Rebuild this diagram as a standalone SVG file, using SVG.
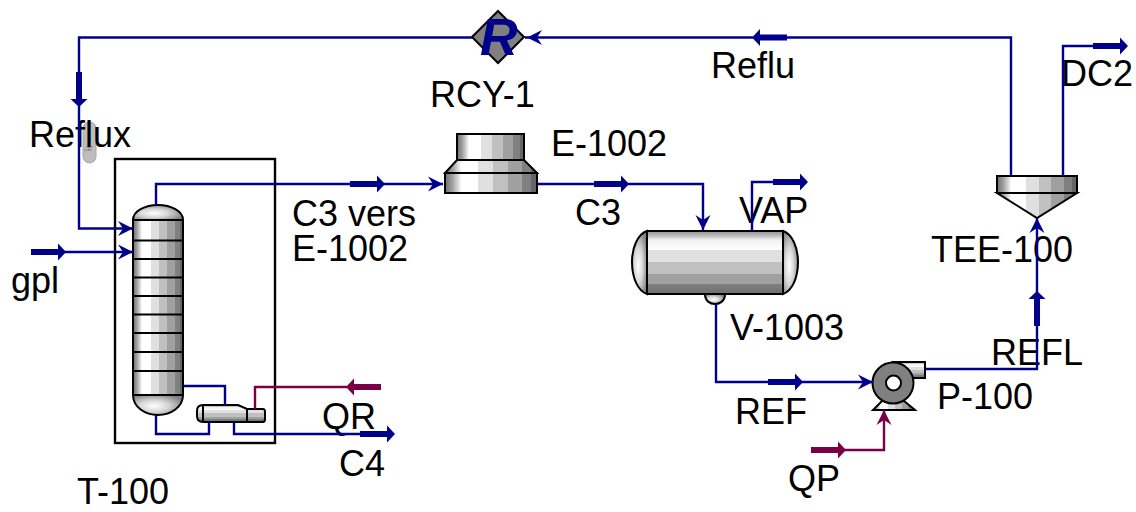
<svg xmlns="http://www.w3.org/2000/svg" xmlns:xlink="http://www.w3.org/1999/xlink" width="1136" height="512" viewBox="0 0 1136 512">
<style>
text{font-family:"Liberation Sans",Arial,sans-serif;font-size:36px;fill:#000}
.s{fill:none;stroke:#00008b;stroke-width:2.4}
.e{fill:none;stroke:#7a0046;stroke-width:2.4}
.b{fill:#00008b}
.m{fill:#7a0046}
.o{stroke:#000;stroke-width:2}
.t{stroke:#000;stroke-width:2;fill:none}
</style>
<defs>
<linearGradient id="h" x1="0" x2="1" y1="0" y2="0">
<stop offset="0" stop-color="#707070"/><stop offset=".08" stop-color="#a0a0a0"/><stop offset=".14" stop-color="#d8d8d8"/><stop offset=".18" stop-color="#fff"/><stop offset=".36" stop-color="#fff"/><stop offset=".36" stop-color="#e0e0e0"/><stop offset=".52" stop-color="#e0e0e0"/><stop offset=".52" stop-color="#c0c0c0"/><stop offset=".68" stop-color="#c0c0c0"/><stop offset=".68" stop-color="#a0a0a0"/><stop offset=".84" stop-color="#a0a0a0"/><stop offset=".84" stop-color="#808080"/><stop offset=".94" stop-color="#808080"/><stop offset=".94" stop-color="#666"/><stop offset="1" stop-color="#666"/>
</linearGradient>
<linearGradient id="v" x1="0" x2="0" y1="0" y2="1">
<stop offset="0" stop-color="#909090"/><stop offset=".08" stop-color="#c0c0c0"/><stop offset=".14" stop-color="#f0f0f0"/><stop offset=".3" stop-color="#fff"/><stop offset=".3" stop-color="#e0e0e0"/><stop offset=".5" stop-color="#e0e0e0"/><stop offset=".5" stop-color="#c0c0c0"/><stop offset=".68" stop-color="#c0c0c0"/><stop offset=".68" stop-color="#a0a0a0"/><stop offset=".84" stop-color="#a0a0a0"/><stop offset=".84" stop-color="#808080"/><stop offset="1" stop-color="#707070"/>
</linearGradient>
<radialGradient id="d" cx=".42" cy=".55" r=".62">
<stop offset="0" stop-color="#fff"/><stop offset=".45" stop-color="#d8d8d8"/><stop offset=".7" stop-color="#b0b0b0"/><stop offset="1" stop-color="#808080"/>
</radialGradient>
<path id="head" d="M0 0L-15-7.5L-10 0L-15 7.5Z"/>
<path id="thick" d="M0 0L-8-8.5V-3H-35V3H-8V8.5Z"/>
</defs>

<g id="T-100">
<rect x="115" y="159" width="160" height="284" fill="none" stroke="#000" stroke-width="2.4"/>
<path class="o" fill="url(#d)" d="M133 220C133 211 145 205 158 205C171 205 183 211 183 220Z"/>
<path class="o" fill="url(#d)" d="M133 395C133 407 145 415 158 415C171 415 183 407 183 395Z"/>
<rect class="o" x="133" y="220" width="50" height="175" fill="url(#h)"/>
<path class="t" d="M133 240.5H183M133 259H183M133 277.5H183M133 296H183M133 314.5H183M133 333H183M133 352H183M133 371H183"/>
<path class="o" fill="url(#v)" d="M203 405H238L247 409H263Q265 409 265 412V419Q265 422 263 422H203Q197 422 197 416V411Q197 405 203 405Z"/>
<path class="t" d="M203 405V422M247 409V422"/>
<text x="77" y="504">T-100</text>
</g>

<g id="reflux-indicator">
<rect x="83" y="122" width="13" height="41" rx="6.5" fill="#bdbdbd" stroke="#a8a8a8"/>
<path d="M86 147H93M89 143V151M84 150H92" stroke="#888" stroke-width="1.2" fill="none"/>
<text x="29" y="147">Reflux</text>
</g>

<g id="RCY-1">
<path class="o" fill="#808080" d="M498 11L524 37L498 63L472 37Z"/>
<text x="480" y="55" style="font-size:52px;font-weight:bold;font-style:italic;fill:#00008b">R</text>
<text x="430" y="107">RCY-1</text>
</g>

<g id="E-1002">
<rect class="o" x="457" y="134" width="67" height="26" fill="url(#h)"/>
<path class="o" fill="url(#h)" d="M457 160H524L537 173H445Z"/>
<rect class="o" x="445" y="173" width="92" height="20" fill="url(#h)"/>
<text x="551" y="156">E-1002</text>
</g>

<g id="V-1003">
<path class="o" fill="url(#d)" d="M705 294H725C725 301 720 304 715 304C710 304 705 301 705 294Z"/>
<path class="o" fill="url(#d)" d="M647 231C638 234 632 247 632 262C632 278 638 291 647 294Z"/>
<path class="o" fill="url(#d)" d="M783 231C792 234 798 247 798 262C798 278 792 291 783 294Z"/>
<rect class="o" x="647" y="231" width="136" height="63" fill="url(#v)"/>
<text x="730" y="340">V-1003</text>
</g>

<g id="P-100">
<path class="o" fill="url(#v)" d="M893 362H925V378H905Z"/>
<path class="o" fill="url(#h)" d="M882 401H904L915 410H873Z"/>
<circle class="o" cx="893" cy="383" r="20.5" fill="#808080"/>
<circle class="o" cx="893.500" cy="383" r="7.500" fill="#fff"/>
<text x="937" y="409">P-100</text>
</g>

<g id="TEE-100">
<rect class="o" x="997" y="176" width="80" height="17" fill="url(#h)"/>
<path class="o" fill="url(#h)" d="M997 193H1077L1037 218Z"/>
<text x="931" y="262">TEE-100</text>
</g>

<g id="stream-labels">
<text x="711" y="78">Reflu</text>
<text x="292" y="226">C3 vers</text>
<text x="292" y="261">E-1002</text>
<text x="575" y="225">C3</text>
<text x="739" y="223">VAP</text>
<text x="11" y="293">gpl</text>
<text x="1061" y="86">DC2</text>
<text x="991" y="365">REFL</text>
<text x="735" y="424">REF</text>
<text x="788" y="491">QP</text>
<text x="322" y="429">QR</text>
<text x="339" y="476">C4</text>
</g>

<g id="connectors">
<path class="s" d="M472 37.500H79V228.500H133"/>
<path class="s" d="M1011 176V37.500H525"/>
<path class="s" d="M32 252H133"/>
<path class="s" d="M156 205V184H443"/>
<path class="s" d="M537 184H703V230"/>
<path class="s" d="M752 231V182H800"/>
<path class="s" d="M716 304V382H873"/>
<path class="s" d="M926 369H1037V218"/>
<path class="s" d="M1063 176V46H1120"/>
<path class="s" d="M183 386H225V405"/>
<path class="s" d="M156 415V434H209V422"/>
<path class="s" d="M234 422V434H390"/>
<path class="e" d="M347 387H255V409"/>
<path class="e" d="M830 450H884V410"/>
<use xlink:href="#head" class="b" transform="translate(133 228.500)"/>
<use xlink:href="#head" class="b" transform="translate(133 252)"/>
<use xlink:href="#head" class="b" transform="translate(443 184)"/>
<use xlink:href="#head" class="b" transform="translate(527 37.500) rotate(180)"/>
<use xlink:href="#head" class="b" transform="translate(703 230) rotate(90)"/>
<use xlink:href="#head" class="b" transform="translate(873 382)"/>
<use xlink:href="#head" class="b" transform="translate(1037 218) rotate(-90)"/>
<use xlink:href="#head" class="m" transform="translate(884 410) rotate(-90)"/>
<use xlink:href="#thick" class="b" transform="translate(79 107) rotate(90)"/>
<use xlink:href="#thick" class="b" transform="translate(66 252)"/>
<use xlink:href="#thick" class="b" transform="translate(385 184)"/>
<use xlink:href="#thick" class="b" transform="translate(629 184)"/>
<use xlink:href="#thick" class="b" transform="translate(808 182)"/>
<use xlink:href="#thick" class="b" transform="translate(803 382)"/>
<use xlink:href="#thick" class="b" transform="translate(1037 291) rotate(-90)"/>
<use xlink:href="#thick" class="b" transform="translate(1128 46)"/>
<use xlink:href="#thick" class="b" transform="translate(395 434)"/>
<use xlink:href="#thick" class="b" transform="translate(752 37.500) rotate(180)"/>
<use xlink:href="#thick" class="m" transform="translate(346 387) rotate(180)"/>
<use xlink:href="#thick" class="m" transform="translate(846 450)"/>
</g>
</svg>
